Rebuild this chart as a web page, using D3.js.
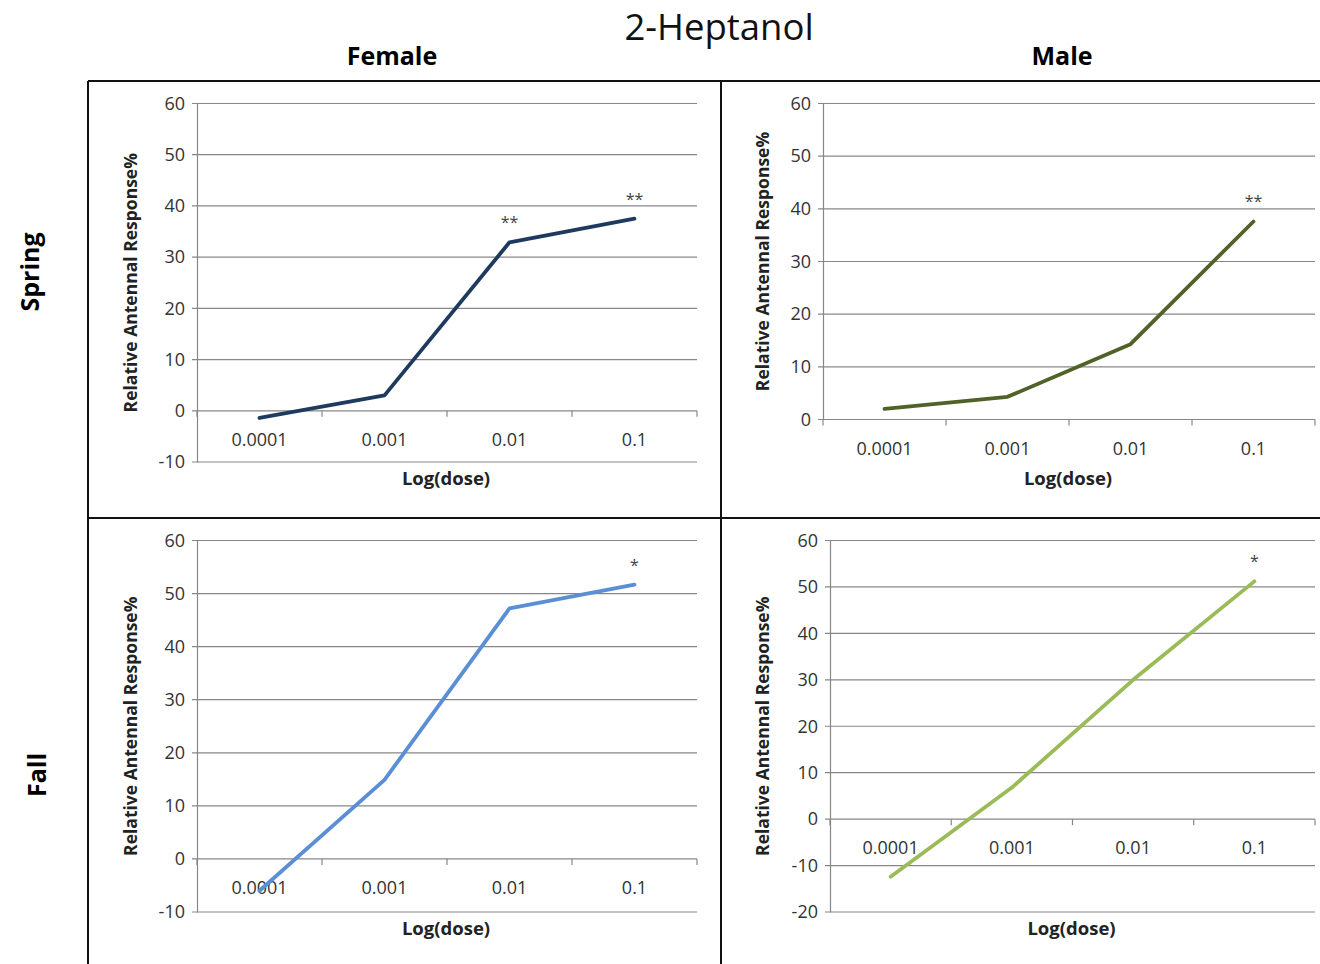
<!DOCTYPE html>
<html>
<head>
<meta charset="utf-8">
<script src="https://cdn.jsdelivr.net/npm/d3@7"></script>
<style>
  body { margin: 0; background: #fff; }
  text { font-family: "Open Sans", "Noto Sans", sans-serif; }
</style>
</head>
<body>
<div id="chart"></div>
<script>
var svgWidth = 1320;
var svgHeight = 964;

// data
var doses = ["0.0001", "0.001", "0.01", "0.1"];
var femaleSpring = [-1.4, 3.0, 32.9, 37.5];
var maleSpring = [2.0, 4.3, 14.3, 37.6];
var femaleFall = [-6.0, 14.9, 47.2, 51.7];
var maleFall = [-12.4, 6.8, 30.0, 51.2];
var femaleSpringStars = ["", "", "**", "**"];
var maleSpringStars = ["", "", "", "**"];
var femaleFallStars = ["", "", "", "*"];
var maleFallStars = ["", "", "", "*"];
var yTicksFemale = [-10, 0, 10, 20, 30, 40, 50, 60];
var yTicksMaleSpring = [0, 10, 20, 30, 40, 50, 60];
var yTicksMaleFall = [-20, -10, 0, 10, 20, 30, 40, 50, 60];

var svg = d3.select("#chart")
    .append("svg")
    .attr("width", svgWidth)
    .attr("height", svgHeight);

// table frame
var frame = svg.append("g").attr("stroke", "#111").attr("stroke-width", 2);
frame.append("line").attr("x1", 88).attr("x2", 1320).attr("y1", 81).attr("y2", 81);
frame.append("line").attr("x1", 88).attr("x2", 1320).attr("y1", 518).attr("y2", 518);
frame.append("line").attr("x1", 88).attr("x2", 88).attr("y1", 81).attr("y2", 964);
frame.append("line").attr("x1", 721).attr("x2", 721).attr("y1", 81).attr("y2", 964);

svg.append("text")
    .attr("x", 719).attr("y", 40)
    .attr("text-anchor", "middle")
    .style("font-size", "36.5px")
    .attr("fill", "#111")
    .text("2-Heptanol");

svg.append("text")
    .attr("x", 392).attr("y", 65)
    .attr("text-anchor", "middle")
    .style("font-size", "25px").style("font-weight", "bold")
    .text("Female");

svg.append("text")
    .attr("x", 1062).attr("y", 65)
    .attr("text-anchor", "middle")
    .style("font-size", "25px").style("font-weight", "bold")
    .text("Male");

svg.append("text")
    .attr("transform", "translate(39, 272) rotate(-90)")
    .attr("text-anchor", "middle")
    .style("font-size", "25px").style("font-weight", "bold")
    .text("Spring");

svg.append("text")
    .attr("transform", "translate(46, 775) rotate(-90)")
    .attr("text-anchor", "middle")
    .style("font-size", "25px").style("font-weight", "bold")
    .text("Fall");

function drawPanel(values, stars, yTicks, color, x0, x1, yTop, yBot, labelX, xTitleY) {
    var g = svg.append("g");

    var xScale = d3.scaleBand()
        .domain(doses)
        .range([x0, x1]);

    var yScale = d3.scaleLinear()
        .domain([yTicks[0], yTicks[yTicks.length - 1]])
        .range([yBot, yTop]);

    // gridlines
    g.selectAll("line.grid")
        .data(yTicks)
        .enter()
        .append("line")
        .attr("x1", x0 - 5)
        .attr("x2", x1)
        .attr("y1", d => yScale(d))
        .attr("y2", d => yScale(d))
        .attr("stroke", "#878787")
        .attr("stroke-width", 1.2);

    // y axis
    var leftAxis = d3.axisLeft(yScale)
        .tickValues(yTicks)
        .tickFormat(d => String(d))
        .tickSize(0)
        .tickPadding(12);
    var ya = g.append("g")
        .attr("transform", `translate(${x0}, 0)`)
        .call(leftAxis);
    ya.select(".domain").attr("stroke", "#878787").attr("stroke-width", 1.2);
    ya.selectAll("text")
        .style("font-size", "18px")
        .attr("fill", "#333");

    // x axis at zero
    var y0 = yScale(0);
    var edges = doses.map(d => xScale(d)).concat([x1]);
    g.selectAll("line.xtick")
        .data(edges)
        .enter()
        .append("line")
        .attr("x1", d => d).attr("x2", d => d)
        .attr("y1", y0).attr("y2", y0 + 6)
        .attr("stroke", "#878787")
        .attr("stroke-width", 1.2);

    g.selectAll("text.xlab")
        .data(doses)
        .enter()
        .append("text")
        .attr("x", d => xScale(d) + xScale.bandwidth() / 2)
        .attr("y", y0 + 35)
        .attr("text-anchor", "middle")
        .style("font-size", "18px")
        .attr("fill", "#333")
        .text(d => d);

    g.append("text")
        .attr("x", (x0 + x1) / 2 - 1)
        .attr("y", xTitleY)
        .attr("text-anchor", "middle")
        .style("font-size", "18.5px").style("font-weight", "bold")
        .attr("fill", "#222")
        .text("Log(dose)");

    g.append("text")
        .attr("transform", `translate(${labelX}, ${(yTop + yBot) / 2}) rotate(-90)`)
        .attr("text-anchor", "middle")
        .style("font-size", "17.5px").style("font-weight", "bold")
        .attr("fill", "#222")
        .text("Relative Antennal Response%");

    var line = d3.line()
        .x((d, i) => xScale(doses[i]) + xScale.bandwidth() / 2)
        .y(d => yScale(d));

    g.append("path")
        .datum(values)
        .attr("d", line)
        .attr("fill", "none")
        .attr("stroke", color)
        .attr("stroke-width", 3.8)
        .attr("stroke-linecap", "round")
        .attr("stroke-linejoin", "round");

    g.selectAll("text.star")
        .data(stars)
        .enter()
        .append("text")
        .attr("x", (d, i) => xScale(doses[i]) + xScale.bandwidth() / 2)
        .attr("y", (d, i) => yScale(values[i]) - 14)
        .attr("text-anchor", "middle")
        .style("font-size", "16px")
        .attr("fill", "#444")
        .text(d => d);
}

drawPanel(femaleSpring, femaleSpringStars, yTicksFemale, "#1f3a5f", 197, 697, 103.5, 462, 137, 485);
drawPanel(maleSpring, maleSpringStars, yTicksMaleSpring, "#4f6228", 823, 1315, 103.5, 419.5, 769, 485);
drawPanel(femaleFall, femaleFallStars, yTicksFemale, "#5a8fd6", 197, 697, 540.5, 912, 137, 935);
drawPanel(maleFall, maleFallStars, yTicksMaleFall, "#9bbb59", 830, 1315, 540.5, 912, 769, 935);
</script>
</body>
</html>
